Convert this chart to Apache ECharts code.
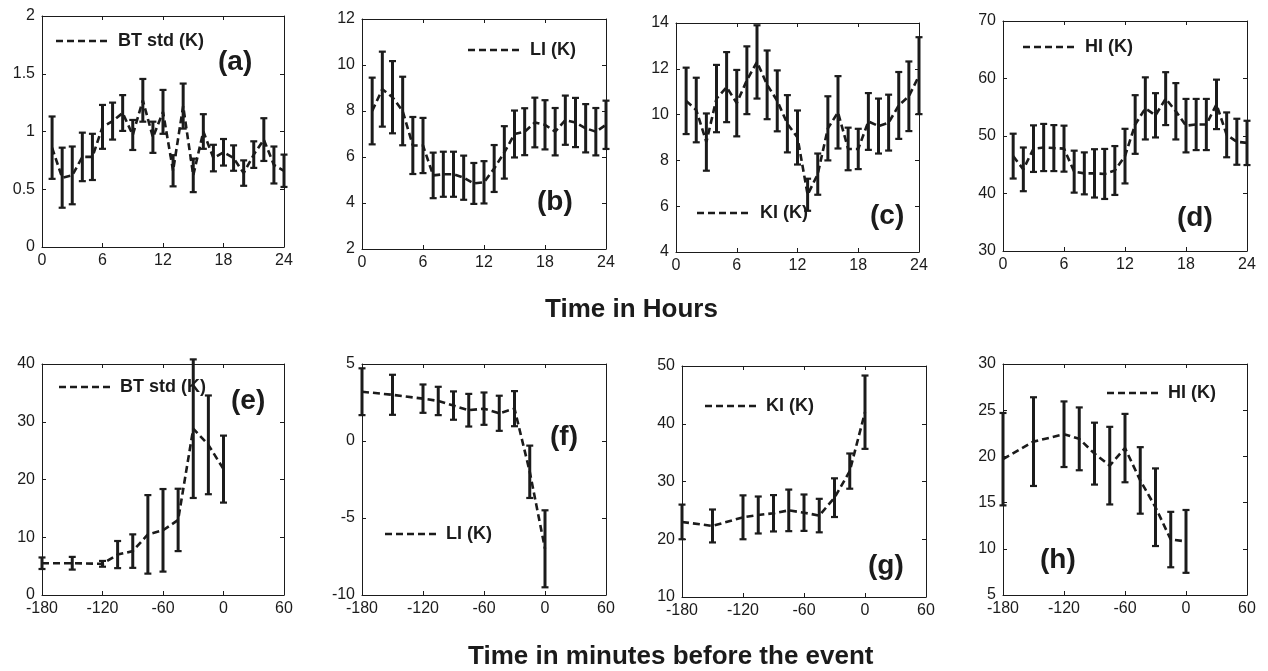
<!DOCTYPE html>
<html>
<head>
<meta charset="utf-8">
<script src="https://cdn.jsdelivr.net/npm/echarts@6/dist/echarts.min.js"></script>
<style>
  html, body { margin: 0; padding: 0; background: #fff; }
  #chart { width: 1268px; height: 671px; }
</style>
</head>
<body>
<div id="chart"></div>
<script>
// x values
const hours = [1, 2, 3, 4, 5, 6, 7, 8, 9, 10, 11, 12, 13, 14, 15, 16, 17, 18, 19, 20, 21, 22, 23, 24];
const minutes = [-180, -150, -120, -105, -90, -75, -60, -45, -30, -15, 0];

// (a) BT std per hour
const btHourMean = [0.86, 0.6, 0.62, 0.78, 0.78, 1.04, 1.09, 1.16, 0.97, 1.27, 0.95, 1.17, 0.66, 1.22, 0.62, 1.0, 0.77, 0.82, 0.77, 0.64, 0.8, 0.93, 0.71, 0.66];
const btHourErr = [0.27, 0.26, 0.25, 0.21, 0.2, 0.19, 0.16, 0.155, 0.13, 0.185, 0.135, 0.19, 0.135, 0.195, 0.145, 0.15, 0.115, 0.115, 0.11, 0.11, 0.115, 0.185, 0.16, 0.14];
// (b) LI per hour
const liHourMean = [8.0, 8.95, 8.6, 8.0, 6.5, 6.5, 5.2, 5.25, 5.25, 5.1, 4.85, 4.9, 5.5, 6.2, 7.0, 7.1, 7.5, 7.4, 7.1, 7.6, 7.5, 7.25, 7.1, 7.4];
const liHourErr = [1.45, 1.63, 1.57, 1.49, 1.24, 1.2, 0.99, 0.98, 0.98, 0.96, 0.89, 0.92, 1.02, 1.14, 1.02, 1.02, 1.08, 1.07, 1.03, 1.07, 1.07, 1.05, 1.03, 1.05];
// (c) KI per hour
const kiHourMean = [10.6, 10.2, 8.8, 10.7, 11.2, 10.5, 11.5, 12.3, 11.3, 10.6, 9.6, 9.0, 6.5, 7.4, 9.4, 10.1, 8.5, 8.5, 9.7, 9.5, 9.65, 10.4, 10.8, 11.7];
const kiHourErr = [1.45, 1.41, 1.25, 1.47, 1.53, 1.45, 1.48, 1.6, 1.5, 1.33, 1.25, 1.18, 0.7, 0.9, 1.4, 1.58, 0.93, 0.88, 1.24, 1.2, 1.22, 1.46, 1.52, 1.68];
// (d) HI per hour
const hiHourMean = [46.5, 44.2, 47.8, 48.0, 47.9, 47.8, 43.8, 43.5, 43.5, 43.4, 44.0, 46.5, 52, 54.8, 53.6, 56.5, 54.3, 51.8, 52, 52, 55.5, 50.2, 49, 48.8];
const hiHourErr = [3.9, 3.8, 4.05, 4.1, 4.0, 4.0, 3.65, 3.65, 4.2, 4.35, 4.25, 4.75, 5.1, 5.4, 3.85, 4.6, 4.9, 4.65, 4.45, 4.45, 4.3, 3.9, 4.0, 3.85];
// (e) BT std before the event
const btEventMean = [5.5, 5.5, 5.4, 7.0, 7.6, 10.5, 11.2, 13.0, 28.8, 26.0, 21.8];
const btEventErr = [1.0, 1.1, 0.5, 2.35, 2.9, 6.8, 7.15, 5.4, 12.0, 8.55, 5.8];
// (f) LI before the event
const liEventMean = [3.2, 3.0, 2.75, 2.6, 2.3, 2.0, 2.1, 1.8, 2.1, -2.0, -7.0];
const liEventErr = [1.52, 1.3, 0.92, 0.92, 0.92, 1.06, 1.05, 1.14, 1.14, 1.7, 2.5];
// (g) KI before the event
const kiEventMean = [23, 22.3, 23.8, 24.2, 24.5, 25, 24.6, 24.1, 27.2, 31.8, 42];
const kiEventErr = [3, 2.85, 3.8, 3.2, 3.15, 3.6, 3.15, 2.9, 3.35, 3.05, 6.35];
// (h) HI before the event
const hiEventMean = [19.7, 21.6, 22.4, 21.9, 20.3, 19.0, 20.9, 17.4, 14.5, 11.0, 10.8];
const hiEventErr = [5.0, 4.8, 3.55, 3.4, 3.35, 4.2, 3.7, 3.6, 4.2, 3.0, 3.4];

const hourTicks = { min: 0, max: 24, interval: 6 };
const minuteTicks = { min: -180, max: 60, interval: 60 };

const FONT = "'Liberation Sans', Arial, sans-serif";
const INK = '#1b1b1b';

const panels = [
  { x: hours, mean: btHourMean, err: btHourErr, xr: hourTicks, yr: { min: 0, max: 2, interval: 0.5 },
    grid: [42, 16, 242, 231], name: 'BT std (K)', tag: '(a)', leg: [56, 110, 41], tagPos: [218, 62] },
  { x: hours, mean: liHourMean, err: liHourErr, xr: hourTicks, yr: { min: 2, max: 12, interval: 2 },
    grid: [362, 19, 244, 230], name: 'LI (K)', tag: '(b)', leg: [468, 522, 50], tagPos: [537, 202] },
  { x: hours, mean: kiHourMean, err: kiHourErr, xr: hourTicks, yr: { min: 4, max: 14, interval: 2 },
    grid: [676, 23, 243, 229], name: 'KI (K)', tag: '(c)', leg: [697, 752, 213], tagPos: [870, 216] },
  { x: hours, mean: hiHourMean, err: hiHourErr, xr: hourTicks, yr: { min: 30, max: 70, interval: 10 },
    grid: [1003, 21, 244, 230], name: 'HI (K)', tag: '(d)', leg: [1023, 1077, 47], tagPos: [1177, 218] },
  { x: minutes, mean: btEventMean, err: btEventErr, xr: minuteTicks, yr: { min: 0, max: 40, interval: 10 },
    grid: [42, 364, 242, 231], name: 'BT std (K)', tag: '(e)', leg: [59, 112, 387], tagPos: [231, 401] },
  { x: minutes, mean: liEventMean, err: liEventErr, xr: minuteTicks, yr: { min: -10, max: 5, interval: 5 },
    grid: [362, 364, 244, 231], name: 'LI (K)', tag: '(f)', leg: [385, 438, 534], tagPos: [550, 437] },
  { x: minutes, mean: kiEventMean, err: kiEventErr, xr: minuteTicks, yr: { min: 10, max: 50, interval: 10 },
    grid: [682, 366, 244, 231], name: 'KI (K)', tag: '(g)', leg: [705, 758, 406], tagPos: [868, 566] },
  { x: minutes, mean: hiEventMean, err: hiEventErr, xr: minuteTicks, yr: { min: 5, max: 30, interval: 5 },
    grid: [1003, 364, 244, 231], name: 'HI (K)', tag: '(h)', leg: [1107, 1160, 393], tagPos: [1040, 560] }
];

function renderErrorBar(params, api) {
  const x = api.value(0);
  const lo = api.coord([x, api.value(1)]);
  const hi = api.coord([x, api.value(2)]);
  const cap = 3.5;
  const style = { stroke: INK, lineWidth: 3 };
  const capStyle = { stroke: INK, lineWidth: 2.2 };
  return {
    type: 'group',
    children: [
      { type: 'line', shape: { x1: hi[0], y1: hi[1], x2: lo[0], y2: lo[1] }, style },
      { type: 'line', shape: { x1: hi[0] - cap, y1: hi[1], x2: hi[0] + cap, y2: hi[1] }, style: capStyle },
      { type: 'line', shape: { x1: lo[0] - cap, y1: lo[1], x2: lo[0] + cap, y2: lo[1] }, style: capStyle }
    ]
  };
}

const grids = [], xAxes = [], yAxes = [], series = [], graphics = [];

panels.forEach((p, i) => {
  grids.push({ left: p.grid[0], top: p.grid[1], width: p.grid[2], height: p.grid[3] });
  const line = { show: true, onZero: false, lineStyle: { color: INK, width: 1 } };
  const tick = { show: true, inside: true, length: 4, lineStyle: { color: INK, width: 1 } };
  const label = { color: INK, fontSize: 16, fontFamily: FONT, margin: 6 };
  xAxes.push({ type: 'value', gridIndex: i, position: 'bottom', ...p.xr, axisLine: line, axisTick: tick,
    axisLabel: label, splitLine: { show: false } });
  xAxes.push({ type: 'value', gridIndex: i, position: 'top', ...p.xr, axisLine: line, axisTick: tick,
    axisLabel: { show: false }, splitLine: { show: false } });
  yAxes.push({ type: 'value', gridIndex: i, position: 'left', ...p.yr, axisLine: line, axisTick: tick,
    axisLabel: { ...label, margin: 7 }, splitLine: { show: false } });
  yAxes.push({ type: 'value', gridIndex: i, position: 'right', ...p.yr, axisLine: line, axisTick: tick,
    axisLabel: { show: false }, splitLine: { show: false } });

  series.push({
    type: 'line', xAxisIndex: 2 * i, yAxisIndex: 2 * i,
    data: p.x.map((v, k) => [v, p.mean[k]]),
    showSymbol: false, silent: true, z: 3,
    lineStyle: { color: INK, width: 2.6, type: [7, 4] }
  });
  series.push({
    type: 'custom', xAxisIndex: 2 * i, yAxisIndex: 2 * i,
    data: p.x.map((v, k) => [v, p.mean[k] - p.err[k], p.mean[k] + p.err[k]]),
    encode: { x: 0, y: [1, 2] },
    renderItem: renderErrorBar, silent: true, z: 4
  });

  // legend entry and panel tag
  graphics.push({ type: 'line', shape: { x1: p.leg[0], y1: p.leg[2], x2: p.leg[1], y2: p.leg[2] },
    style: { stroke: INK, lineWidth: 2.6, lineDash: [7, 4] } });
  graphics.push({ type: 'text', x: p.leg[1] + 8, y: p.leg[2],
    style: { text: p.name, fontSize: 18, fontWeight: 'bold', fontFamily: FONT, fill: INK, align: 'left', verticalAlign: 'middle' } });
  graphics.push({ type: 'text', x: p.tagPos[0], y: p.tagPos[1],
    style: { text: p.tag, fontSize: 28, fontWeight: 'bold', fontFamily: FONT, fill: INK, align: 'left', verticalAlign: 'middle' } });
});

graphics.push({ type: 'text', x: 545, y: 310,
  style: { text: 'Time in Hours', fontSize: 26, fontWeight: 'bold', fontFamily: FONT, fill: INK, align: 'left', verticalAlign: 'middle' } });
graphics.push({ type: 'text', x: 468, y: 657,
  style: { text: 'Time in minutes before the event', fontSize: 26, fontWeight: 'bold', fontFamily: FONT, fill: INK, align: 'left', verticalAlign: 'middle' } });

const myChart = echarts.init(document.getElementById('chart'));
myChart.setOption({
  animation: false,
  backgroundColor: '#fff',
  grid: grids,
  xAxis: xAxes,
  yAxis: yAxes,
  series: series,
  graphic: graphics
});
</script>
</body>
</html>
